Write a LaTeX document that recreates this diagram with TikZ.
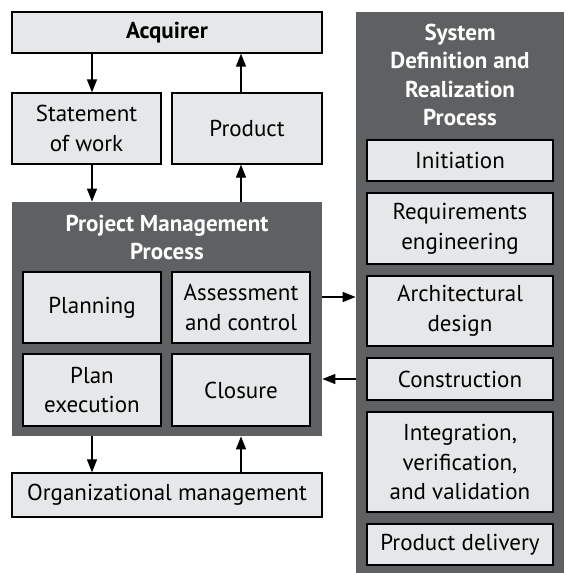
\documentclass[tikz,border=0pt]{standalone}
\usepackage{fontspec}
\setmainfont{PT Sans}
\usetikzlibrary{arrows.meta}

\definecolor{boxgray}{RGB}{230,231,232}
\definecolor{procgray}{RGB}{95,96,98}

\begin{document}
\begin{tikzpicture}[x=0.5pt,y=-0.5pt,
    box/.style={draw=black,fill=boxgray,line width=0.6pt,inner sep=0pt,align=center,
                font=\fontsize{11.5}{14.8}\selectfont},
    boldbox/.style={box,font=\bfseries\fontsize{11.5}{14.8}\selectfont},
    proc/.style={fill=procgray,inner sep=0pt},
    head/.style={text=white,align=center,font=\bfseries\fontsize{11.5}{14.3}\selectfont},
    link/.style={-{Triangle[length=6.5pt,width=5pt]},line width=0.6pt}]
    \useasboundingbox (0,0) rectangle (573,573);
    \node[proc,minimum width=155pt,minimum height=117pt] (pm) at (167,319) {};
    \node[proc,minimum width=104pt,minimum height=280.5pt] (sys) at (460,292.5) {};
    \node[head] (pmtitle) at (167,237.5) {Project Management\\Process};
    \node[head] (systitle) at (460,75) {System\\Definition and\\Realization\\Process};
    \node[boldbox,minimum width=155pt,minimum height=20.5pt] (acq) at (167,32.5) {Acquirer};
    \node[box,minimum width=74.5pt,minimum height=35.5pt] (sow) at (86.5,128.5) {Statement\\of work};
    \node[box,minimum width=75pt,minimum height=35.5pt] (prod) at (247,128.5) {Product};
    \node[box,minimum width=69pt,minimum height=35.5pt] (plan) at (92,307.5) {Planning};
    \node[box,minimum width=69pt,minimum height=35.5pt] (assess) at (241,307.5) {Assessment\\and control};
    \node[box,minimum width=69pt,minimum height=36pt] (planex) at (92,390) {Plan\\execution};
    \node[box,minimum width=69pt,minimum height=36pt] (closure) at (241,390) {Closure};
    \node[box,minimum width=155pt,minimum height=22pt] (org) at (167,495) {Organizational management};
    \node[box,minimum width=93pt,minimum height=20.5pt] (init) at (460,160.5) {Initiation};
    \node[box,minimum width=93pt,minimum height=35.5pt] (req) at (460,228.5) {Requirements\\engineering};
    \node[box,minimum width=93pt,minimum height=35pt] (arch) at (460,311) {Architectural\\design};
    \node[box,minimum width=93pt,minimum height=21pt] (constr) at (460,379) {Construction};
    \node[box,minimum width=93pt,minimum height=50pt] (integ) at (460,462) {Integration,\\verification,\\and validation};
    \node[box,minimum width=93pt,minimum height=20.5pt] (deliv) at (460,544.5) {Product delivery};
    \coordinate (tosys) at (0,297);
    \draw[link] (acq.south -| plan) -- (sow.north -| plan);
    \draw[link] (prod.north -| assess) -- (acq.south -| assess);
    \draw[link] (sow.south -| plan) -- (pm.north -| plan);
    \draw[link] (pm.north -| assess) -- (prod.south -| assess);
    \draw[link] (pm.east |- tosys) -- (sys.west |- tosys);
    \draw[link] (sys.west |- constr) -- (pm.east |- constr);
    \draw[link] (pm.south -| plan) -- (org.north -| plan);
    \draw[link] (org.north -| assess) -- (pm.south -| assess);
\end{tikzpicture}
\end{document}
